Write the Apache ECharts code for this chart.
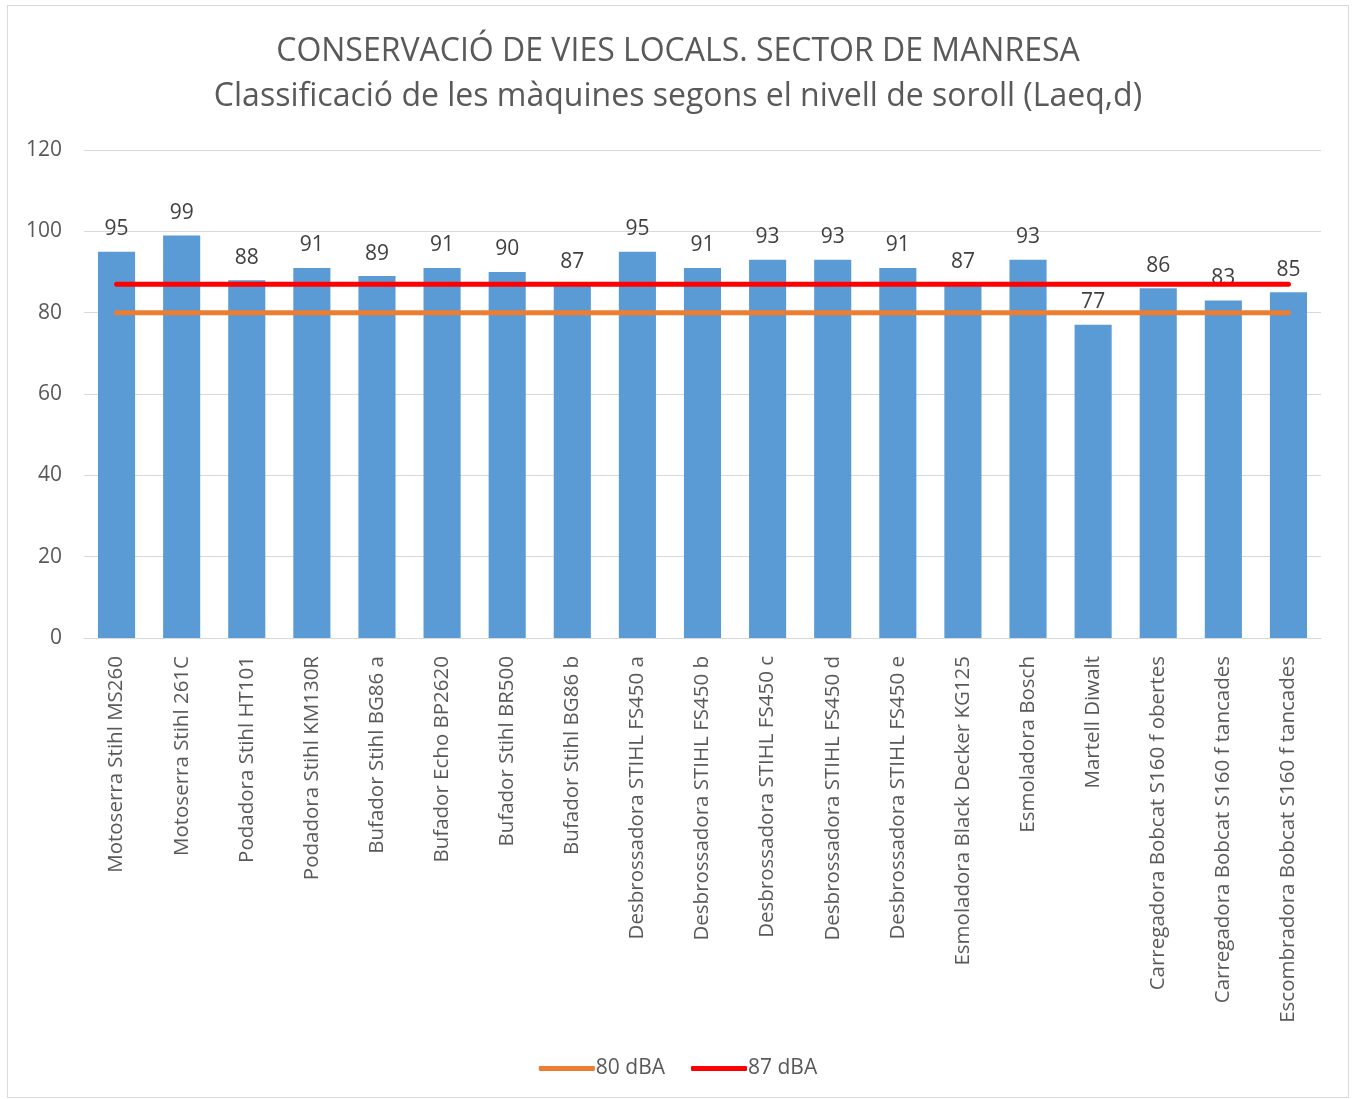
<!DOCTYPE html>
<html>
<head>
<meta charset="utf-8">
<script src="https://cdn.jsdelivr.net/npm/echarts@6/dist/echarts.min.js"></script>
<style>
  html, body { margin: 0; padding: 0; background: #fff; }
  #main { position: absolute; left: 7px; top: 5px; width: 1340px; height: 1091px; border: 1px solid #d9d9d9; }
</style>
</head>
<body>
<div id="main"></div>
<script>
  var categories = ['Motoserra Stihl MS260', 'Motoserra Stihl 261C', 'Podadora Stihl HT101', 'Podadora Stihl KM130R',
    'Bufador Stihl BG86 a', 'Bufador Echo BP2620', 'Bufador Stihl BR500', 'Bufador Stihl BG86 b',
    'Desbrossadora STIHL FS450 a', 'Desbrossadora STIHL FS450 b', 'Desbrossadora STIHL FS450 c',
    'Desbrossadora STIHL FS450 d', 'Desbrossadora STIHL FS450 e', 'Esmoladora Black Decker KG125',
    'Esmoladora Bosch', 'Martell Diwalt', 'Carregadora Bobcat S160 f obertes',
    'Carregadora Bobcat S160 f tancades', 'Escombradora Bobcat S160 f tancades'
  ]
  var noiseValues = [95, 99, 88, 91, 89, 91, 90, 87, 95, 91, 93, 93, 91, 87, 93, 77, 86, 83, 85]
  var limit80 = categories.map(function () { return 80 })
  var limit87 = categories.map(function () { return 87 })
  var yTicks = { min: 0, max: 120, interval: 20 }

  var font = '"Open Sans", "Noto Sans", sans-serif'
  var chart = echarts.init(document.getElementById('main'))
  chart.setOption({
    animation: false,
    textStyle: { fontFamily: font },
    title: {
      text: 'CONSERVACIÓ DE VIES LOCALS. SECTOR DE MANRESA\nClassificació de les màquines segons el nivell de soroll (Laeq,d)',
      left: 'center',
      top: 18,
      textStyle: {
        color: '#595959',
        fontSize: 32,
        fontWeight: 'normal',
        lineHeight: 45,
        fontFamily: font
      }
    },
    grid: {
      left: 76,
      right: 27,
      top: 144,
      bottom: 459
    },
    legend: {
      bottom: 13,
      left: 'center',
      itemWidth: 56,
      itemHeight: 5,
      itemGap: 26,
      textStyle: { color: '#595959', fontSize: 21, padding: [0, 0, 0, -4] },
      data: [
        { name: '80 dBA', icon: 'roundRect' },
        { name: '87 dBA', icon: 'roundRect' }
      ]
    },
    xAxis: {
      type: 'category',
      data: categories,
      axisLine: { lineStyle: { color: '#d9d9d9' } },
      axisTick: { show: false },
      axisLabel: {
        rotate: 90,
        interval: 0,
        margin: 18,
        color: '#595959',
        fontSize: 20.5
      }
    },
    yAxis: {
      type: 'value',
      min: yTicks.min,
      max: yTicks.max,
      interval: yTicks.interval,
      axisLine: { show: false },
      axisTick: { show: false },
      axisLabel: { color: '#595959', fontSize: 21, margin: 22 },
      splitLine: { lineStyle: { color: '#d9d9d9', width: 1 } }
    },
    series: [{
      name: 'Nivell',
      type: 'bar',
      data: noiseValues,
      barWidth: '57%',
      itemStyle: { color: '#5b9bd5' },
      label: {
        show: true,
        position: 'top',
        distance: 12,
        color: '#404040',
        fontSize: 21
      }
    }, {
      name: '80 dBA',
      type: 'line',
      data: limit80,
      symbol: 'none',
      lineStyle: { color: '#ed7d31', width: 5, cap: 'round' },
      itemStyle: { color: '#ed7d31' }
    }, {
      name: '87 dBA',
      type: 'line',
      data: limit87,
      symbol: 'none',
      lineStyle: { color: '#ff0000', width: 5, cap: 'round' },
      itemStyle: { color: '#ff0000' }
    }]
  })
</script>
</body>
</html>
